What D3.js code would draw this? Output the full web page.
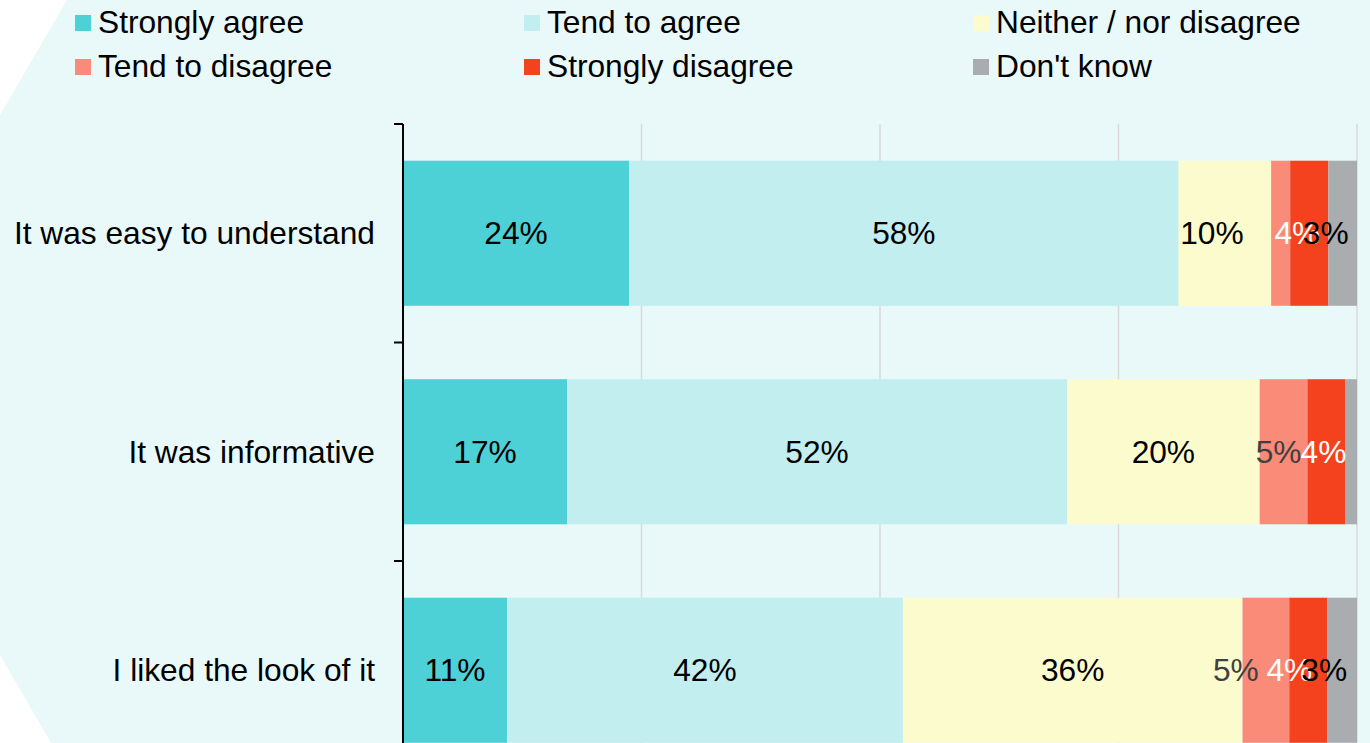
<!DOCTYPE html>
<html>
<head>
<meta charset="utf-8">
<script src="https://cdn.jsdelivr.net/npm/d3@7"></script>
<style>
  html, body { margin: 0; padding: 0; background: #ffffff; overflow: hidden; }
  svg { display: block; font-family: "Liberation Sans", Arial, sans-serif; }
</style>
</head>
<body>
<svg id="chart" width="1370" height="743"></svg>
<script>
// ---- data ----
const categories = ["It was easy to understand", "It was informative", "I liked the look of it"];
const seriesNames = ["Strongly agree", "Tend to agree", "Neither / nor disagree", "Tend to disagree", "Strongly disagree", "Don't know"];
const stronglyAgree    = [23.7, 17.2, 10.9];
const tendToAgree      = [57.6, 52.4, 41.5];
const neither          = [9.7, 20.2, 35.6];
const tendToDisagree   = [2.0, 5.0, 4.9];
const stronglyDisagree = [4.0, 4.0, 4.0];
const dontKnow         = [3.0, 1.2, 3.1];
const xTicks = [0, 25, 50, 75, 100];

// ---- styles / layout ----
const colors = ["#4dd0d6", "#c2eeef", "#fcfbcd", "#fa8b78", "#f4421e", "#a9adb0"];
const labelColors = ["#000000", "#000000", "#000000", "#404040", "#ffffff", "#000000"];
// small horizontal nudges (px) for crowded labels, per category, per series
const labelNudge = [
  [0, 0, -13, 0, -12, -17],
  [0, 0, 0, -5, -3, 0],
  [0, 0, 0, -30, -19, -18]
];
const fontSize = 31.7;

const svg = d3.select("#chart");
const W = 1370, H = 743;

// background panel with chamfered left corners
svg.append("polygon")
  .attr("points", [[67,0],[W,0],[W,H],[51,H],[0,655],[0,115]].map(p => p.join(",")).join(" "))
  .attr("fill", "#e9f9fa");

const seriesValues = [stronglyAgree, tendToAgree, neither, tendToDisagree, stronglyDisagree, dontKnow];

const x = d3.scaleLinear().domain([0, 100]).range([403, 1357]);
const y = d3.scaleBand().domain(categories).range([124, 124 + 3 * 218.5])
  .paddingInner(0.336).paddingOuter(0.168);

// gridlines
svg.append("g").selectAll("line")
  .data(xTicks.filter(t => t > 0))
  .join("line")
  .attr("x1", d => x(d)).attr("x2", d => x(d))
  .attr("y1", 124).attr("y2", H)
  .attr("stroke", "#d9d9d9").attr("stroke-width", 1.5);

// stacked data
const rows = categories.map((c, i) => {
  const o = { category: c };
  seriesNames.forEach((s, j) => o[s] = seriesValues[j][i]);
  return o;
});
const stacked = d3.stack().keys(seriesNames)(rows);

const gBars = svg.append("g");
stacked.forEach((layer, j) => {
  gBars.append("g").attr("fill", colors[j])
    .selectAll("rect")
    .data(layer)
    .join("rect")
    .attr("x", d => x(d[0]))
    .attr("y", d => y(d.data.category))
    .attr("width", d => x(d[1]) - x(d[0]))
    .attr("height", y.bandwidth());
});

// labels
const gLabels = svg.append("g").attr("font-size", fontSize);
stacked.forEach((layer, j) => {
  layer.forEach((d, i) => {
    const v = d[1] - d[0];
    if (v < 2.5) return;
    gLabels.append("text")
      .attr("x", (x(d[0]) + x(d[1])) / 2 + labelNudge[i][j])
      .attr("y", y(d.data.category) + y.bandwidth() / 2)
      .attr("dy", "0.35em")
      .attr("text-anchor", "middle")
      .attr("fill", labelColors[j])
      .text(Math.round(v) + "%");
  });
});

// y axis
const yAxis = d3.axisLeft(y).tickSize(0).tickPadding(28);
const gy = svg.append("g").attr("transform", `translate(${x(0)},0)`).call(yAxis);
gy.select(".domain").remove();
gy.selectAll("text").attr("font-size", fontSize).attr("fill", "#000")
  .attr("font-family", "Liberation Sans, Arial, sans-serif").attr("dy", "0.35em");

// axis line and boundary ticks
svg.append("line")
  .attr("x1", x(0)).attr("x2", x(0))
  .attr("y1", y.range()[0]).attr("y2", H)
  .attr("stroke", "#000").attr("stroke-width", 2);
const bounds = categories.map(c => y(c) - y.step() * y.paddingOuter());
svg.append("g").selectAll("line")
  .data(bounds)
  .join("line")
  .attr("x1", x(0) - 9).attr("x2", x(0))
  .attr("y1", d => d).attr("y2", d => d)
  .attr("stroke", "#000").attr("stroke-width", 2);

// legend
const legend = svg.append("g").attr("font-size", fontSize);
seriesNames.forEach((s, i) => {
  const col = i % 3, row = Math.floor(i / 3);
  const lx = 75 + col * 449, base = 33 + row * 44;
  legend.append("rect")
    .attr("x", lx).attr("y", base - 18)
    .attr("width", 16).attr("height", 16)
    .attr("fill", colors[i]);
  legend.append("text")
    .attr("x", lx + 23).attr("y", base)
    .attr("fill", "#000")
    .text(s);
});
</script>
</body>
</html>
